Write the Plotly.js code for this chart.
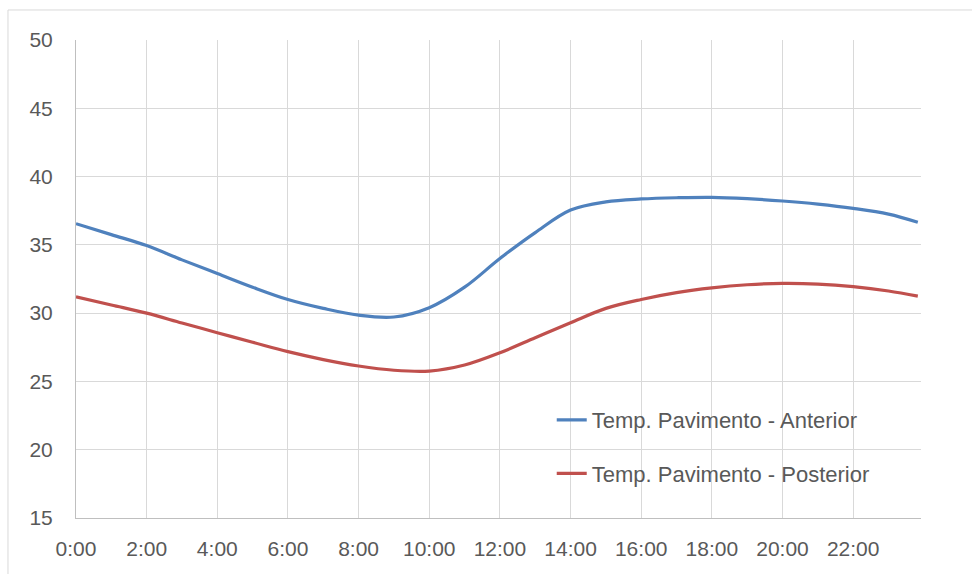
<!DOCTYPE html>
<html>
<head>
<meta charset="utf-8">
<script src="https://cdn.plot.ly/plotly-3.0.1.min.js"></script>
<style>html,body{margin:0;padding:0;background:#fff;}#chart{width:972px;height:574px;}</style>
</head>
<body>
<div id="chart"></div>
<script>
const hours = [0,1,2,3,4,5,6,7,8,9,10,11,12,13,14,15,16,17,18,19,20,21,22,23,23.83];
const anterior = [36.55,35.75,34.95,33.9,32.9,31.9,31.0,30.35,29.85,29.72,30.4,31.9,34.0,35.9,37.55,38.15,38.36,38.45,38.48,38.38,38.21,37.98,37.67,37.25,36.65];
const posterior = [31.2,30.6,30.0,29.28,28.57,27.87,27.18,26.6,26.13,25.82,25.76,26.2,27.1,28.2,29.3,30.35,31.0,31.5,31.85,32.08,32.18,32.13,31.94,31.62,31.25];
const tickVals = [0,2,4,6,8,10,12,14,16,18,20,22];
const tickText = ["0:00","2:00","4:00","6:00","8:00","10:00","12:00","14:00","16:00","18:00","20:00","22:00"];
const seriesNames = ["Temp. Pavimento - Anterior","Temp. Pavimento - Posterior"];

const traces = [
  {x: hours, y: anterior, name: seriesNames[0], mode: 'lines', legendgroup: 'a',
   line: {color: '#4F81BD', width: 3.2, shape: 'spline', smoothing: 1}},
  {x: hours, y: posterior, name: seriesNames[1], mode: 'lines', legendgroup: 'b',
   line: {color: '#C0504D', width: 3.2, shape: 'spline', smoothing: 1}}
];

const layout = {
  width: 972, height: 574,
  margin: {l: 76, r: 51, t: 40, b: 56},
  paper_bgcolor: '#ffffff', plot_bgcolor: '#ffffff',
  font: {family: 'Liberation Sans, Arial, sans-serif', color: '#595959', size: 21},
  showlegend: true,
  legend: {x: 0.563, y: 0.249, xanchor: 'left', yanchor: 'top', bgcolor: 'rgba(255,255,255,0)',
           font: {size: 22, color: '#595959'}, tracegroupgap: 22, traceorder: 'grouped'},
  xaxis: {range: [0, 23.92], tickvals: tickVals, ticktext: tickText, showgrid: true,
          gridcolor: '#d9d9d9', gridwidth: 1, zeroline: false, showline: true,
          linecolor: '#bfbfbf', linewidth: 1, ticks: '', ticklabelstandoff: 12,
          tickfont: {size: 21, color: '#595959'}},
  yaxis: {range: [15, 50], dtick: 5, tick0: 15, showgrid: true, gridcolor: '#d9d9d9',
          gridwidth: 1, zeroline: false, showline: true, linecolor: '#bfbfbf', linewidth: 1,
          ticks: '', ticklabelstandoff: 18, tickfont: {size: 21, color: '#595959'}},
  shapes: [
    {type: 'rect', xref: 'paper', yref: 'paper', x0: -0.0805, x1: 1.2, y0: -0.2, y1: 1.0628,
     line: {color: '#d9d9d9', width: 1}, fillcolor: 'rgba(0,0,0,0)', layer: 'below'}
  ]
};

Plotly.newPlot('chart', traces, layout, {staticPlot: true, displayModeBar: false});
</script>
</body>
</html>
